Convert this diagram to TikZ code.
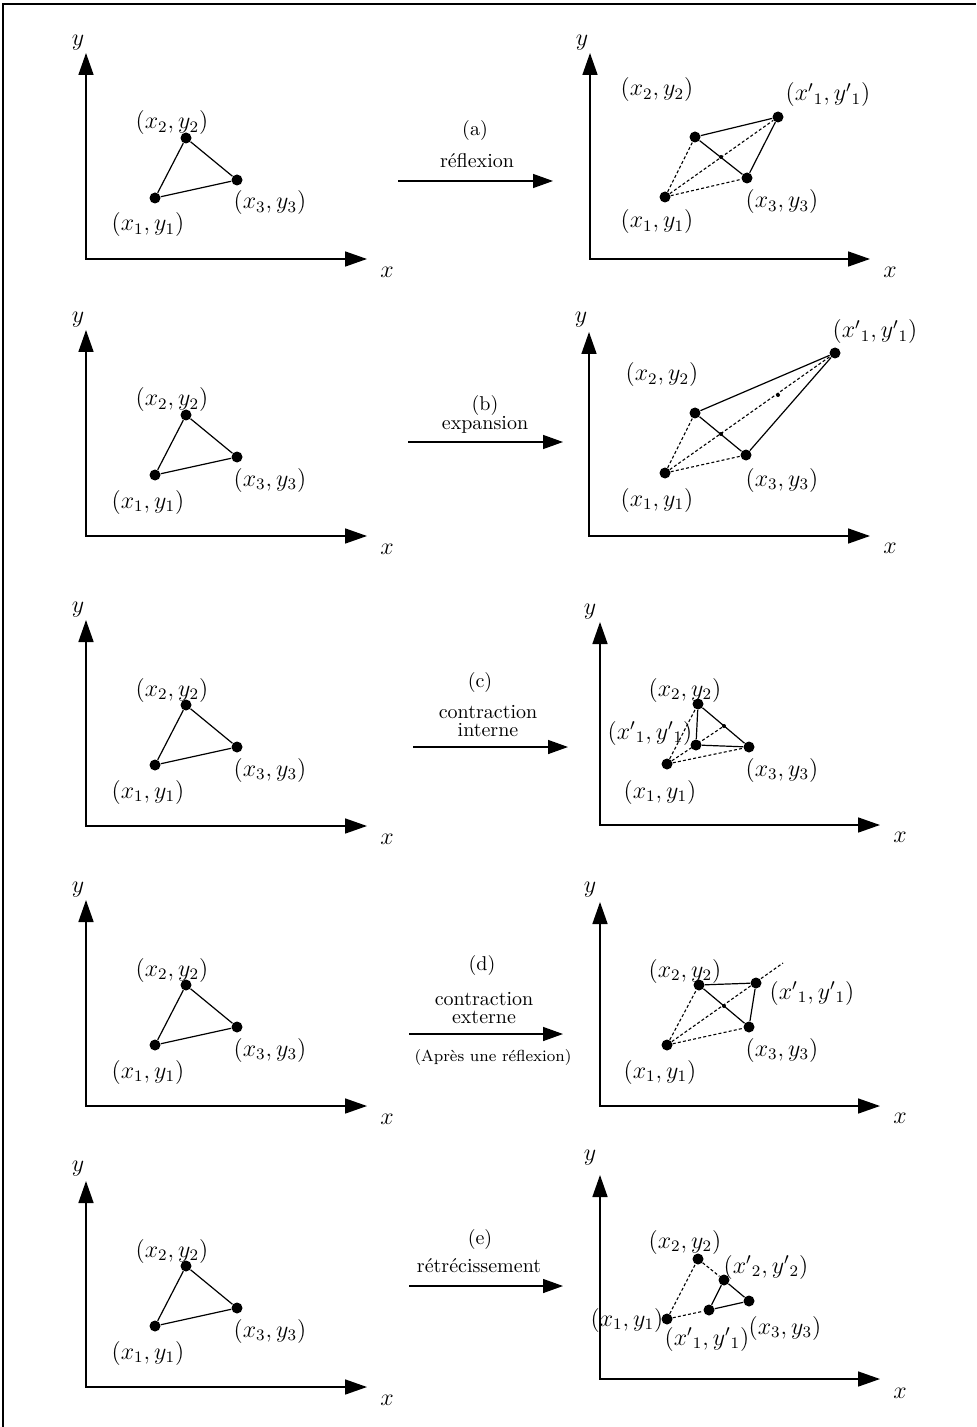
\documentclass[tikz,border=0pt]{standalone}
\usepackage{amsmath}
\usepackage{tikz}
\usetikzlibrary{arrows.meta}
\tikzset{
  axes/.style={{Triangle[length=11pt,width=7.5pt]}-{Triangle[length=11pt,width=7.5pt]},line width=0.8pt},
  tri/.style={line width=0.6pt},
  tdash/.style={line width=0.55pt,dash pattern=on 1.5pt off 1.1pt},
  vtx/.style={circle,fill=black,inner sep=0pt,minimum size=5.5pt},
  cnt/.style={circle,fill=black,inner sep=0pt,minimum size=2pt},
  lbl/.style={font=\fontsize{11.5}{13}\selectfont,inner sep=0pt},
  axl/.style={font=\fontsize{12}{14}\selectfont,inner sep=0pt},
  opn/.style={font=\fontsize{10}{12}\selectfont,inner sep=0pt},
  opn2/.style={font=\fontsize{10}{9}\selectfont,inner sep=0pt,align=center},
  note/.style={font=\fontsize{8}{10}\selectfont,inner sep=0pt},
  flow/.style={-{Triangle[length=10pt,width=7pt]},line width=0.7pt},
  frame/.style={line width=1pt},
}
\begin{document}
\begin{tikzpicture}[x=0.5pt,y=-0.5pt]
  \useasboundingbox (0,0) rectangle (976,1427);
  % --- frame ---
  \coordinate (fbl) at (3,1427);
  \coordinate (ftl) at (3,4);
  \coordinate (ftr) at (976,4);
  \draw[frame] (fbl) -- (ftl) -- (ftr);

  % --- (a) reflexion ---
  \begin{scope}[shift={(86,259)}]
    \coordinate (laO) at (0,0);
    \coordinate (laX) at (281,0);
    \coordinate (laY) at (0,-206);
    \draw[axes] (laY) -- (laO) -- (laX);
    \node[axl] (laXl) at (301,13) {$x$};
    \node[axl] (laYl) at (-8,-216) {$y$};
    \node[vtx] (la1) at (69,-61) {};
    \node[vtx] (la2) at (100,-121) {};
    \node[vtx] (la3) at (151,-79) {};
    \draw[tri] (la1) -- (la2) -- (la3) -- (la1);
    \node[lbl] (la1l) at (62,-34) {$(x_1, y_1)$};
    \node[lbl] (la2l) at (86,-136) {$(x_2, y_2)$};
    \node[lbl] (la3l) at (184,-56) {$(x_3, y_3)$};
  \end{scope}
  \coordinate (sa) at (398,181);
  \coordinate (ta) at (553,181);
  \draw[flow] (sa) -- (ta);
  \node[opn] (opa) at (475,131) {(a)};
  \node[opn] (opal) at (477,161) {réflexion};
  \coordinate (raO) at (590,259);
  \coordinate (raX) at (870,259);
  \coordinate (raY) at (590,53);
  \draw[axes] (raY) -- (raO) -- (raX);
  \node[axl] (raXl) at (890,272) {$x$};
  \node[axl] (raYl) at (582,43) {$y$};
  \node[vtx] (ra1) at (665,197) {};
  \node[vtx] (ra2) at (695,137) {};
  \node[vtx] (ra3) at (747,178) {};
  \node[vtx] (ra4) at (778,117) {};
  \node[cnt] (rac) at (721,157) {};
  \draw[tri] (ra2) -- (ra4) -- (ra3) -- (ra2);
  \draw[tdash] (ra1) -- (ra2);
  \draw[tdash] (ra1) -- (ra3);
  \draw[tdash] (ra1) -- (ra4);
  \node[lbl] (ra1l) at (657,222) {$(x_1, y_1)$};
  \node[lbl] (ra2l) at (657,90) {$(x_2, y_2)$};
  \node[lbl] (ra3l) at (782,202) {$(x_3, y_3)$};
  \node[lbl] (ra4l) at (828,95) {$(x'{}_1, y'{}_1)$};

  % --- (b) expansion ---
  \begin{scope}[shift={(86,536)}]
    \coordinate (lbO) at (0,0);
    \coordinate (lbX) at (281,0);
    \coordinate (lbY) at (0,-206);
    \draw[axes] (lbY) -- (lbO) -- (lbX);
    \node[axl] (lbXl) at (301,13) {$x$};
    \node[axl] (lbYl) at (-8,-216) {$y$};
    \node[vtx] (lb1) at (69,-61) {};
    \node[vtx] (lb2) at (100,-121) {};
    \node[vtx] (lb3) at (151,-79) {};
    \draw[tri] (lb1) -- (lb2) -- (lb3) -- (lb1);
    \node[lbl] (lb1l) at (62,-34) {$(x_1, y_1)$};
    \node[lbl] (lb2l) at (86,-136) {$(x_2, y_2)$};
    \node[lbl] (lb3l) at (184,-56) {$(x_3, y_3)$};
  \end{scope}
  \coordinate (sb) at (408,442);
  \coordinate (tb) at (563,442);
  \draw[flow] (sb) -- (tb);
  \node[opn] (opb) at (485,405) {(b)};
  \node[opn] (opbl) at (485,425) {expansion};
  \coordinate (rbO) at (589,536);
  \coordinate (rbX) at (870,536);
  \coordinate (rbY) at (589,332);
  \draw[axes] (rbY) -- (rbO) -- (rbX);
  \node[axl] (rbXl) at (890,548) {$x$};
  \node[axl] (rbYl) at (581,320) {$y$};
  \node[vtx] (rb1) at (665,473) {};
  \node[vtx] (rb2) at (695,413) {};
  \node[vtx] (rb3) at (746,455) {};
  \node[vtx] (rb4) at (835,353) {};
  \node[cnt] (rbc) at (721,434) {};
  \node[cnt] (rbr) at (778,395) {};
  \draw[tri] (rb2) -- (rb4) -- (rb3) -- (rb2);
  \draw[tdash] (rb1) -- (rb2);
  \draw[tdash] (rb1) -- (rb3);
  \draw[tdash] (rb1) -- (rb4);
  \node[lbl] (rb1l) at (657,500) {$(x_1, y_1)$};
  \node[lbl] (rb2l) at (662,375) {$(x_2, y_2)$};
  \node[lbl] (rb3l) at (782,480) {$(x_3, y_3)$};
  \node[lbl] (rb4l) at (875,332) {$(x'{}_1, y'{}_1)$};

  % --- (c) contraction interne ---
  \begin{scope}[shift={(86,826)}]
    \coordinate (lcO) at (0,0);
    \coordinate (lcX) at (281,0);
    \coordinate (lcY) at (0,-206);
    \draw[axes] (lcY) -- (lcO) -- (lcX);
    \node[axl] (lcXl) at (301,13) {$x$};
    \node[axl] (lcYl) at (-8,-216) {$y$};
    \node[vtx] (lc1) at (69,-61) {};
    \node[vtx] (lc2) at (100,-121) {};
    \node[vtx] (lc3) at (151,-79) {};
    \draw[tri] (lc1) -- (lc2) -- (lc3) -- (lc1);
    \node[lbl] (lc1l) at (62,-34) {$(x_1, y_1)$};
    \node[lbl] (lc2l) at (86,-136) {$(x_2, y_2)$};
    \node[lbl] (lc3l) at (184,-56) {$(x_3, y_3)$};
  \end{scope}
  \coordinate (sc) at (413,747);
  \coordinate (tc) at (568,747);
  \draw[flow] (sc) -- (tc);
  \node[opn] (opc) at (480,682) {(c)};
  \node[opn2] (opcl) at (488,721) {contraction\\interne};
  \coordinate (rcO) at (600,825);
  \coordinate (rcX) at (880,825);
  \coordinate (rcY) at (600,622);
  \draw[axes] (rcY) -- (rcO) -- (rcX);
  \node[axl] (rcXl) at (900,837) {$x$};
  \node[axl] (rcYl) at (590,612) {$y$};
  \node[vtx] (rc1) at (667,764) {};
  \node[vtx] (rc2) at (698,704) {};
  \node[vtx] (rc3) at (749,747) {};
  \node[vtx] (rc4) at (696,745) {};
  \node[cnt] (rcc) at (724,726) {};
  \draw[tri] (rc2) -- (rc3) -- (rc4) -- (rc2);
  \draw[tdash] (rc1) -- (rc2);
  \draw[tdash] (rc1) -- (rc3);
  \draw[tdash] (rc1) -- (rcc);
  \node[lbl] (rc1l) at (660,792) {$(x_1, y_1)$};
  \node[lbl] (rc2l) at (685,690) {$(x_2, y_2)$};
  \node[lbl] (rc3l) at (782,770) {$(x_3, y_3)$};
  \node[lbl] (rc4l) at (650,733) {$(x'{}_1, y'{}_1)$};

  % --- (d) contraction externe ---
  \begin{scope}[shift={(86,1106)}]
    \coordinate (ldO) at (0,0);
    \coordinate (ldX) at (281,0);
    \coordinate (ldY) at (0,-206);
    \draw[axes] (ldY) -- (ldO) -- (ldX);
    \node[axl] (ldXl) at (301,13) {$x$};
    \node[axl] (ldYl) at (-8,-216) {$y$};
    \node[vtx] (ld1) at (69,-61) {};
    \node[vtx] (ld2) at (100,-121) {};
    \node[vtx] (ld3) at (151,-79) {};
    \draw[tri] (ld1) -- (ld2) -- (ld3) -- (ld1);
    \node[lbl] (ld1l) at (62,-34) {$(x_1, y_1)$};
    \node[lbl] (ld2l) at (86,-136) {$(x_2, y_2)$};
    \node[lbl] (ld3l) at (184,-56) {$(x_3, y_3)$};
  \end{scope}
  \coordinate (sd) at (409,1034);
  \coordinate (td) at (563,1034);
  \draw[flow] (sd) -- (td);
  \node[opn] (opd) at (482,965) {(d)};
  \node[opn2] (opdl) at (484,1008) {contraction\\externe};
  \node[note] (opdn) at (493,1057) {(Après une réflexion)};
  \coordinate (rdO) at (600,1106);
  \coordinate (rdX) at (880,1106);
  \coordinate (rdY) at (600,902);
  \draw[axes] (rdY) -- (rdO) -- (rdX);
  \node[axl] (rdXl) at (900,1118) {$x$};
  \node[axl] (rdYl) at (590,890) {$y$};
  \node[vtx] (rd1) at (667,1045) {};
  \node[vtx] (rd2) at (699,985) {};
  \node[vtx] (rd3) at (749,1027) {};
  \node[vtx] (rd4) at (756,983) {};
  \node[cnt] (rdc) at (724,1006) {};
  \coordinate (rdr) at (783,963);
  \draw[tri] (rd2) -- (rd4) -- (rd3) -- (rd2);
  \draw[tdash] (rd1) -- (rd2);
  \draw[tdash] (rd1) -- (rd3);
  \draw[tdash] (rd1) -- (rdr);
  \node[lbl] (rd1l) at (660,1072) {$(x_1, y_1)$};
  \node[lbl] (rd2l) at (685,971) {$(x_2, y_2)$};
  \node[lbl] (rd3l) at (782,1050) {$(x_3, y_3)$};
  \node[lbl] (rd4l) at (812,993) {$(x'{}_1, y'{}_1)$};

  % --- (e) retrecissement ---
  \begin{scope}[shift={(86,1387)}]
    \coordinate (leO) at (0,0);
    \coordinate (leX) at (281,0);
    \coordinate (leY) at (0,-206);
    \draw[axes] (leY) -- (leO) -- (leX);
    \node[axl] (leXl) at (301,13) {$x$};
    \node[axl] (leYl) at (-8,-218) {$y$};
    \node[vtx] (le1) at (69,-61) {};
    \node[vtx] (le2) at (100,-121) {};
    \node[vtx] (le3) at (151,-79) {};
    \draw[tri] (le1) -- (le2) -- (le3) -- (le1);
    \node[lbl] (le1l) at (62,-34) {$(x_1, y_1)$};
    \node[lbl] (le2l) at (86,-136) {$(x_2, y_2)$};
    \node[lbl] (le3l) at (184,-56) {$(x_3, y_3)$};
  \end{scope}
  \coordinate (se) at (409,1286);
  \coordinate (te) at (563,1286);
  \draw[flow] (se) -- (te);
  \node[opn] (ope) at (480,1239) {(e)};
  \node[opn] (opel) at (479,1266) {rétrécissement};
  \coordinate (reO) at (600,1379);
  \coordinate (reX) at (880,1379);
  \coordinate (reY) at (600,1175);
  \draw[axes] (reY) -- (reO) -- (reX);
  \node[axl] (reXl) at (900,1393) {$x$};
  \node[axl] (reYl) at (590,1158) {$y$};
  \node[vtx] (re1) at (667,1319) {};
  \node[vtx] (re2) at (698,1259) {};
  \node[vtx] (re3) at (749,1301) {};
  \node[vtx] (re4) at (709,1310) {};
  \node[vtx] (re5) at (724,1280) {};
  \draw[tri] (re5) -- (re3) -- (re4) -- (re5);
  \draw[tdash] (re1) -- (re2);
  \draw[tdash] (re2) -- (re5);
  \draw[tdash] (re1) -- (re4);
  \node[lbl] (re1l) at (627,1320) {$(x_1, y_1)$};
  \node[lbl] (re2l) at (685,1242) {$(x_2, y_2)$};
  \node[lbl] (re3l) at (785,1328) {$(x_3, y_3)$};
  \node[lbl] (re4l) at (707,1339) {$(x'{}_1, y'{}_1)$};
  \node[lbl] (re5l) at (766,1267) {$(x'{}_2, y'{}_2)$};
\end{tikzpicture}
\end{document}
